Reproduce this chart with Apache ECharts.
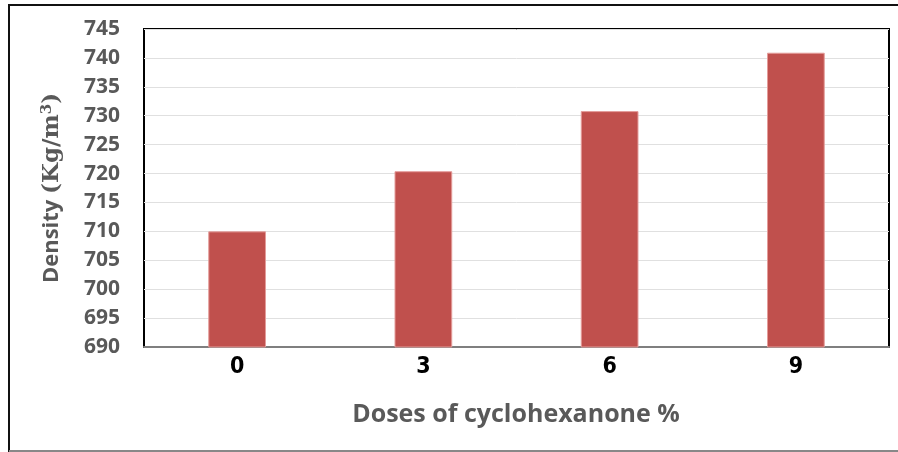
<!DOCTYPE html>
<html>
<head>
<meta charset="utf-8">
<script src="https://cdn.jsdelivr.net/npm/echarts@6/dist/echarts.min.js"></script>
<style>
  html, body { margin: 0; padding: 0; background: #fff; }
  #chart { width: 898px; height: 452px; }
</style>
</head>
<body>
<div id="chart"></div>
<script>
const doses = ["0", "3", "6", "9"];
const density = [710, 720.4, 730.8, 740.9];
const yTicks = [690, 695, 700, 705, 710, 715, 720, 725, 730, 735, 740, 745];

const chart = echarts.init(document.getElementById("chart"));

const option = {
  backgroundColor: "#fff",
  animation: false,
  grid: {
    left: 144,
    right: 9,
    top: 29,
    bottom: 105,
    show: true,
    borderColor: "#000",
    borderWidth: 2,
  },
  graphic: [
    // outer frame (top, left, bottom)
    { type: "line", shape: { x1: 8, y1: 5, x2: 898, y2: 5 }, style: { stroke: "#111", lineWidth: 2 } },
    { type: "line", shape: { x1: 9, y1: 5, x2: 9, y2: 452 }, style: { stroke: "#111", lineWidth: 2 } },
    { type: "line", shape: { x1: 9, y1: 451, x2: 898, y2: 451 }, style: { stroke: "#888", lineWidth: 2 } },
    {
      type: "text",
      x: 516,
      y: 415,
      style: {
        text: "Doses of cyclohexanone %",
        fill: "#595959",
        font: "bold 25px 'Open Sans'",
        align: "center",
        verticalAlign: "middle",
      },
    },
    {
      type: "text",
      rotation: Math.PI / 2,
      x: 52,
      y: 188,
      style: {
        text: "{a|Density }{b|(Kg/m}{s|3}{b|)}",
        align: "center",
        verticalAlign: "middle",
        rich: {
          a: { fill: "#595959", font: "bold 22px 'Open Sans'" },
          b: { fill: "#595959", font: "bold 23px 'DejaVu Serif'" },
          s: { fill: "#595959", font: "bold 15px 'DejaVu Serif'", verticalAlign: "top", padding: [0, 0, 10, 0] },
        },
      },
    },
  ],
  xAxis: {
    type: "category",
    data: doses,
    axisLine: { show: true, lineStyle: { color: "#7f7f7f", width: 2 } },
    axisTick: { show: false },
    axisLabel: {
      color: "#000",
      fontFamily: "DejaVu Sans Condensed, Liberation Sans Narrow, Liberation Sans",
      fontWeight: "bold",
      fontSize: 23,
      margin: 9,
    },
  },
  yAxis: {
    type: "value",
    min: yTicks[0],
    max: yTicks[yTicks.length - 1],
    interval: 5,
    axisLine: { show: false },
    axisTick: { show: false },
    splitLine: { lineStyle: { color: "#e0e0e0", width: 1 } },
    axisLabel: {
      color: "#595959",
      fontFamily: "Open Sans",
      fontWeight: "bold",
      fontSize: 21,
      margin: 24,
    },
  },
  series: [
    {
      type: "bar",
      data: density,
      barWidth: "31%",
      itemStyle: { color: "#c0504d", borderColor: "#e49c9a", borderWidth: 1 },
    },
  ],
};

chart.setOption(option);
</script>
</body>
</html>
